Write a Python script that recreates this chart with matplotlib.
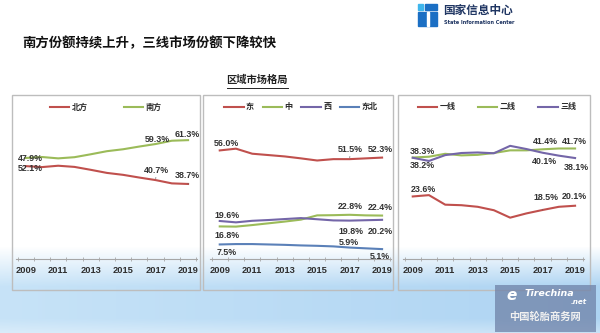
import matplotlib
matplotlib.use("Agg")
import matplotlib.pyplot as plt
import numpy as np
from matplotlib.patches import Rectangle

# data
years = list(range(2009, 2020))
year_labels = ["2009", "2011", "2013", "2015", "2017", "2019"]

north = [47.9, 47.4, 48.1, 47.5, 46.0, 44.4, 43.4, 42.0, 40.7, 39.0, 38.7]
south = [52.1, 52.6, 51.9, 52.5, 54.0, 55.6, 56.6, 58.0, 59.3, 61.0, 61.3]

east = [56.0, 56.9, 54.3, 53.6, 52.9, 51.9, 50.8, 51.5, 51.5, 51.9, 52.3]
central = [16.8, 16.7, 17.5, 18.4, 19.3, 20.3, 22.5, 22.6, 22.8, 22.5, 22.4]
west = [19.6, 18.9, 19.7, 20.1, 20.6, 21.1, 20.5, 19.9, 19.8, 20.0, 20.2]
northeast = [7.5, 7.7, 7.7, 7.5, 7.3, 7.0, 6.8, 6.5, 5.9, 5.5, 5.1]

tier1 = [23.6, 24.1, 20.5, 20.3, 19.7, 18.4, 15.6, 17.2, 18.5, 19.7, 20.1]
tier2 = [38.3, 38.6, 39.7, 39.1, 39.3, 40.0, 41.0, 41.0, 41.4, 41.7, 41.7]
tier3 = [38.2, 37.0, 39.2, 40.0, 40.2, 39.9, 42.7, 41.5, 40.1, 39.0, 38.1]

RED = "#c0504d"
GREEN = "#9bbb59"
PURPLE = "#7466a8"
BLUE = "#5a80b8"

cjk = ["Noto Sans CJK SC", "DejaVu Sans"]
num_font = "Liberation Sans"

W, H = 600, 333
fig = plt.figure(figsize=(6, 3.33), dpi=100)


def fx(x):
    return x / W


def fy(y):
    return 1 - y / H


# slide background: white with a pale blue band at the bottom
bg = fig.add_axes([0, 0, 1, 1], zorder=-10)
yy, xx = np.mgrid[0:H, 0:W]
t = np.clip((yy - 246) / 40.0, 0, 1)
# lighter streak near the very bottom
t = t * (1 - 0.35 * np.clip((yy - 318) / 15.0, 0, 1))
left_c = np.array([0.78, 0.89, 0.97])
right_c = np.array([0.68, 0.83, 0.95])
s = (xx / W)[..., None]
base = left_c * (1 - s) + right_c * s
img = np.ones((H, W, 3)) * (1 - t[..., None]) + base * t[..., None]
bg.imshow(img, aspect="auto", extent=[0, 1, 0, 1])
bg.axis("off")

# panel frames
for x0, x1 in [(12, 200), (203, 393), (398, 590)]:
    fig.patches.append(Rectangle((fx(x0), fy(290)), (x1 - x0) / W, 195 / H,
                                 transform=fig.transFigure, fill=False,
                                 edgecolor="#bdbdbd", lw=1.0))

panels = [
    dict(left=16, ymax=82, series=[north, south], names=["北方", "南方"],
         colors=[RED, GREEN], legend_x=106, colsp=4.5,
         labels=[(0, 0, 5, 8, False), (1, 0, 5, -11, False),
                 (1, 8, 2, 5, False), (1, 10, -1, 6, False),
                 (0, 8, 1, 10, True), (0, 10, -1, 8, True)]),
    dict(left=210, ymax=82, series=[east, central, west, northeast],
         names=["东", "中", "西", "东北"],
         colors=[RED, GREEN, PURPLE, BLUE], legend_x=301, colsp=1.1,
         labels=[(0, 0, 7, 7, False), (0, 8, 1, 10, True),
                 (0, 10, -2, 8, False), (2, 0, 7, 5, False),
                 (1, 0, 7, -9.5, False), (1, 8, 1, 8, False),
                 (1, 10, -2, 8.5, False), (2, 8, 1, -11, False),
                 (2, 10, -2, -11.5, False), (3, 0, 7, -8, False),
                 (3, 8, -1, 5, False), (3, 10, -2, -7.5, False)]),
    dict(left=403, ymax=60, series=[tier1, tier2, tier3],
         names=["一线", "二线", "三线"],
         colors=[RED, GREEN, PURPLE], legend_x=497, colsp=2.8,
         labels=[(1, 0, 10, 6, False), (2, 0, 10, -8, False),
                 (1, 8, 3, 7.5, False), (1, 10, -1, 7, False),
                 (2, 8, 2, -9, False), (2, 10, 1, -9, False),
                 (0, 0, 11, 7, False), (0, 8, 3, 12, True),
                 (0, 10, -1, 9, False)]),
]

for p in panels:
    ax = fig.add_axes([fx(p["left"]), fy(259), 181 / W, 159 / H])
    ax.patch.set_alpha(0)
    for vals, name, c in zip(p["series"], p["names"], p["colors"]):
        ax.plot(years, vals, color=c, lw=1.5, label=name)
    ax.set_xlim(2008.4, 2019.55)
    ax.set_ylim(0, p["ymax"])
    for side in ["left", "right", "top"]:
        ax.spines[side].set_visible(False)
    ax.spines["bottom"].set_color("#a6a6a6")
    ax.spines["bottom"].set_linewidth(0.8)
    ax.set_yticks([])
    ax.set_xticks(years[::2])
    ax.set_xticklabels(year_labels, fontfamily=num_font, fontweight="bold",
                       fontsize=6.7, color="#2e2e2e")
    ax.tick_params(axis="x", which="major", length=0, pad=5)
    ax.set_xticks(np.arange(2008.5, 2020, 1), minor=True)
    ax.tick_params(axis="x", which="minor", length=3, direction="inout",
                   color="#a6a6a6", width=0.6)

    for si, yi, dx, dy, leader in p["labels"]:
        v = p["series"][si][yi]
        kw = {}
        if leader:
            kw["arrowprops"] = dict(arrowstyle="-", color="#666666", lw=0.5,
                                    shrinkA=3, shrinkB=1)
        ax.annotate(f"{v:.1f}%", xy=(years[yi], v), xytext=(dx, dy),
                    textcoords="offset pixels", ha="center", va="center",
                    fontsize=6.4, fontfamily=num_font, fontweight="bold",
                    color="#333333", **kw)

    leg = ax.legend(loc="center", bbox_to_anchor=(fx(p["legend_x"]), fy(107)),
                    bbox_transform=fig.transFigure, ncol=len(p["names"]),
                    frameon=False, handlelength=2.4, handletextpad=0.3,
                    columnspacing=p["colsp"],
                    prop=dict(family=cjk, weight="bold", size=5.8))
    for txt in leg.get_texts():
        txt.set_color("#2a2a2a")

# titles
fig.text(fx(22), fy(43), "南方份额持续上升，三线市场份额下降较快",
         family=cjk, fontweight="bold", fontsize=9.6, color="#111111",
         ha="left", va="center")
fig.text(fx(257), fy(80), "区域市场格局", family=cjk, fontweight="bold",
         fontsize=7.4, color="#222222", ha="center", va="center")
fig.add_artist(plt.Line2D([fx(227), fx(288)], [fy(87.5), fy(87.5)],
                          color="#222222", lw=0.7))

# logo top right
fig.patches.append(Rectangle((fx(418), fy(10)), 5 / W, 6 / H,
                             transform=fig.transFigure, color="#3fb6ec"))
fig.patches.append(Rectangle((fx(425), fy(10)), 12 / W, 6 / H,
                             transform=fig.transFigure, color="#1b6fc4"))
fig.patches.append(Rectangle((fx(418), fy(26)), 19 / W, 14 / H,
                             transform=fig.transFigure, color="#1b6fc4"))
fig.patches.append(Rectangle((fx(426.5), fy(26)), 2 / W, 14 / H,
                             transform=fig.transFigure, color="white"))
fig.text(fx(443), fy(10.5), "国家信息中心", family=cjk, fontweight="bold",
         fontsize=8.4, color="#1f3562", ha="left", va="center")
fig.text(fx(444), fy(22.5), "State Information Center", family="DejaVu Sans",
         fontweight="bold", fontsize=3.6, color="#1f3562", ha="left",
         va="center")

# watermark bottom right
fig.patches.append(Rectangle((fx(495), fy(332)), 101 / W, 47 / H,
                             transform=fig.transFigure, color="#6f82a8",
                             alpha=0.75, lw=0))
fig.text(fx(512), fy(296), "e", family="DejaVu Sans", fontstyle="italic",
         fontweight="bold", fontsize=11, color="white", ha="center",
         va="center")
fig.text(fx(525), fy(293), "Tirechina", family="DejaVu Sans",
         fontstyle="italic", fontweight="bold", fontsize=6.8, color="white",
         ha="left", va="center")
fig.text(fx(587), fy(302), ".net", family="DejaVu Sans", fontstyle="italic",
         fontweight="bold", fontsize=5.2, color="white", ha="right",
         va="center")
fig.text(fx(545), fy(317), "中国轮胎商务网", family=cjk, fontweight="bold",
         fontsize=7.4, color="#f0f0f0", ha="center", va="center")

fig.savefig("out.png", dpi=100)
